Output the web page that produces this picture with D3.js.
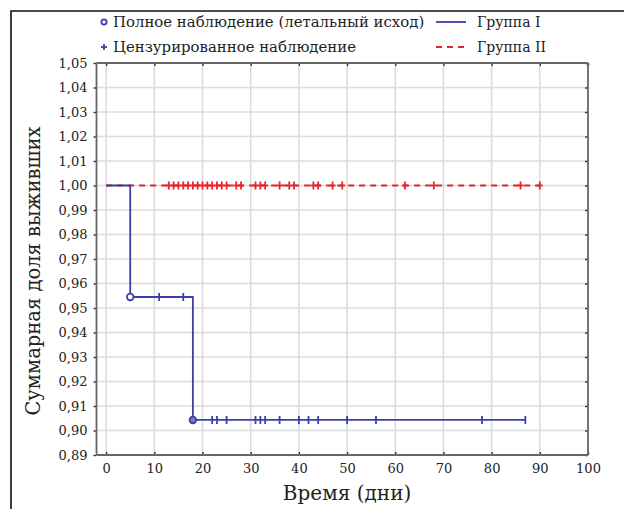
<!DOCTYPE html>
<html>
<head>
<meta charset="utf-8">
<script src="https://cdn.jsdelivr.net/npm/d3@7"></script>
<style>
  html, body { margin: 0; padding: 0; background: #fff; }
  svg { display: block; }
</style>
</head>
<body>
<svg id="chart" width="624" height="509"></svg>
<script>
// Kaplan–Meier survival curves, two groups
const xTicks = [0, 10, 20, 30, 40, 50, 60, 70, 80, 90, 100];
const yTicks = [0.89, 0.90, 0.91, 0.92, 0.93, 0.94, 0.95, 0.96, 0.97, 0.98, 0.99, 1.00, 1.01, 1.02, 1.03, 1.04, 1.05];

// Group I: step curve (time, survival) and events
const groupIStepTimes = [0, 5, 18, 87];
const groupIStepValues = [1.0, 0.9545, 0.9043, 0.9043];
const groupIDeathTimes = [5, 18];
const groupIDeathValues = [0.9545, 0.9043];
const groupICensoredTimes = [11, 16, 22, 23, 25, 31, 32, 33, 36, 40, 42, 44, 50, 56, 78, 87];
const groupICensoredValues = [0.9545, 0.9545, 0.9043, 0.9043, 0.9043, 0.9043, 0.9043, 0.9043, 0.9043, 0.9043, 0.9043, 0.9043, 0.9043, 0.9043, 0.9043, 0.9043];

// Group II: no deaths, survival stays at 1.00
const groupIIStepTimes = [0, 90];
const groupIIStepValues = [1.0, 1.0];
const groupIICensoredTimes = [13, 14, 15, 16, 17, 18, 19, 20, 21, 22, 23, 24, 25, 27, 28, 31, 32, 33, 36, 38, 39, 43, 44, 47, 49, 62, 68, 86, 90];

const legendLeft = ["Полное наблюдение (летальный исход)", "Цензурированное наблюдение"];
const legendRight = ["Группа I", "Группа II"];
const xTitle = "Время (дни)";
const yTitle = "Суммарная доля выживших";

const blue = "#3b3fa6";
const red = "#e2262c";
const font = "'DejaVu Serif', serif";

const svg = d3.select("#chart");

// outer border
svg.append("path")
  .attr("d", "M11,520 L11,11 L630,11")
  .attr("fill", "none").attr("stroke", "#111").attr("stroke-width", 1.6);

const x = d3.scaleLinear().domain([-2, 100]).range([96.5, 588]);
const y = d3.scaleLinear().domain([0.89, 1.05]).range([455, 63]);

// gridlines
const grid = svg.append("g");
grid.selectAll(".gx").data(xTicks.filter(d => d > -2 && d < 100)).join("line")
  .attr("x1", d => x(d)).attr("x2", d => x(d))
  .attr("y1", y(1.05)).attr("y2", y(0.89))
  .attr("stroke", "#dcdcdc").attr("stroke-width", 1.6);
grid.selectAll(".gy").data(yTicks.filter(d => d > 0.891 && d < 1.049)).join("line")
  .attr("x1", x(-2)).attr("x2", x(100))
  .attr("y1", d => y(d)).attr("y2", d => y(d))
  .attr("stroke", "#dcdcdc").attr("stroke-width", 1.6);

// axes with inward ticks on all four sides
const fmt = d => d3.format(".2f")(d).replace(".", ",");
const axB = svg.append("g").attr("transform", `translate(0,${y(0.89)})`)
  .call(d3.axisBottom(x).tickValues(xTicks).tickSizeInner(-3).tickSizeOuter(0).tickPadding(9));
const axT = svg.append("g").attr("transform", `translate(0,${y(1.05)})`)
  .call(d3.axisTop(x).tickValues(xTicks).tickSizeInner(-3).tickSizeOuter(0).tickFormat(""));
const axL = svg.append("g").attr("transform", `translate(${x(-2)},0)`)
  .call(d3.axisLeft(y).tickValues(yTicks).tickSizeInner(3).tickSizeOuter(0).tickPadding(6).tickFormat(fmt));
const axR = svg.append("g").attr("transform", `translate(${x(100)},0)`)
  .call(d3.axisRight(y).tickValues(yTicks).tickSizeInner(-3).tickSizeOuter(0).tickFormat(""));
[axB, axT, axL, axR].forEach(a => {
  a.select(".domain").remove();
  a.selectAll(".tick line").attr("stroke", "#333").attr("stroke-width", 1.4);
  a.selectAll(".tick text").attr("fill", "#222").style("font-family", font).style("font-size", "13px");
});

// plot frame
svg.append("rect")
  .attr("x", x(-2)).attr("y", y(1.05))
  .attr("width", x(100) - x(-2)).attr("height", y(0.89) - y(1.05))
  .attr("rx", 1.5)
  .attr("fill", "none").attr("stroke", "#666").attr("stroke-width", 1.8);

// curves
const step = d3.line().x(d => x(d[0])).y(d => y(d[1])).curve(d3.curveStepAfter);
svg.append("path")
  .datum(groupIIStepTimes.map((t, i) => [t, groupIIStepValues[i]]))
  .attr("d", step).attr("fill", "none")
  .attr("stroke", red).attr("stroke-width", 1.8).attr("stroke-dasharray", "6,5");
svg.append("path")
  .datum(groupIStepTimes.map((t, i) => [t, groupIStepValues[i]]))
  .attr("d", step).attr("fill", "none")
  .attr("stroke", blue).attr("stroke-width", 1.8);

// censored marks
svg.selectAll(".c2").data(groupIICensoredTimes).join("line")
  .attr("x1", d => x(d)).attr("x2", d => x(d))
  .attr("y1", y(1.0) - 4).attr("y2", y(1.0) + 4)
  .attr("stroke", red).attr("stroke-width", 1.8);
svg.selectAll(".c2h").data(groupIICensoredTimes).join("line")
  .attr("x1", d => x(d) - 3).attr("x2", d => x(d) + 3)
  .attr("y1", y(1.0)).attr("y2", y(1.0))
  .attr("stroke", red).attr("stroke-width", 1.8);
svg.selectAll(".c1").data(groupICensoredTimes).join("line")
  .attr("x1", d => x(d)).attr("x2", (d) => x(d))
  .attr("y1", (d, i) => y(groupICensoredValues[i]) - 4)
  .attr("y2", (d, i) => y(groupICensoredValues[i]) + 4)
  .attr("stroke", blue).attr("stroke-width", 1.8);

// deaths
svg.selectAll(".death").data(groupIDeathTimes).join("circle")
  .attr("cx", d => x(d)).attr("cy", (d, i) => y(groupIDeathValues[i]))
  .attr("r", 3.3)
  .attr("fill", (d, i) => i === 1 ? "#7b7ec4" : "#fff")
  .attr("stroke", blue).attr("stroke-width", 1.8);

// axis titles
svg.append("text")
  .attr("x", x(50)).attr("y", 500)
  .attr("text-anchor", "middle")
  .style("font-family", font).style("font-size", "20px").attr("fill", "#222")
  .text(xTitle);
svg.append("text")
  .attr("transform", `translate(40,271) rotate(-90)`)
  .attr("text-anchor", "middle")
  .style("font-family", font).style("font-size", "19.5px").attr("fill", "#222")
  .text(yTitle);

// legend
const legend = svg.append("g");
const rowY = [22, 47];
legend.append("circle").attr("cx", 104).attr("cy", rowY[0]).attr("r", 2.6)
  .attr("fill", "#fff").attr("stroke", blue).attr("stroke-width", 1.8);
legend.append("line").attr("x1", 101).attr("x2", 107).attr("y1", rowY[1]).attr("y2", rowY[1])
  .attr("stroke", blue).attr("stroke-width", 1.8);
legend.append("line").attr("x1", 104).attr("x2", 104).attr("y1", rowY[1] - 3).attr("y2", rowY[1] + 3)
  .attr("stroke", blue).attr("stroke-width", 1.8);
legend.selectAll(".ll").data(legendLeft).join("text")
  .attr("x", 113).attr("y", (d, i) => rowY[i] + 5)
  .style("font-family", font).style("font-size", "14.9px").attr("fill", "#222")
  .text(d => d);
legend.append("line").attr("x1", 436).attr("x2", 466).attr("y1", rowY[0]).attr("y2", rowY[0])
  .attr("stroke", blue).attr("stroke-width", 1.8);
legend.append("line").attr("x1", 436).attr("x2", 466).attr("y1", rowY[1]).attr("y2", rowY[1])
  .attr("stroke", red).attr("stroke-width", 1.8).attr("stroke-dasharray", "6,5");
legend.selectAll(".lr").data(legendRight).join("text")
  .attr("x", 477).attr("y", (d, i) => rowY[i] + 5)
  .style("font-family", font).style("font-size", "14px").attr("fill", "#222")
  .text(d => d);
</script>
</body>
</html>
